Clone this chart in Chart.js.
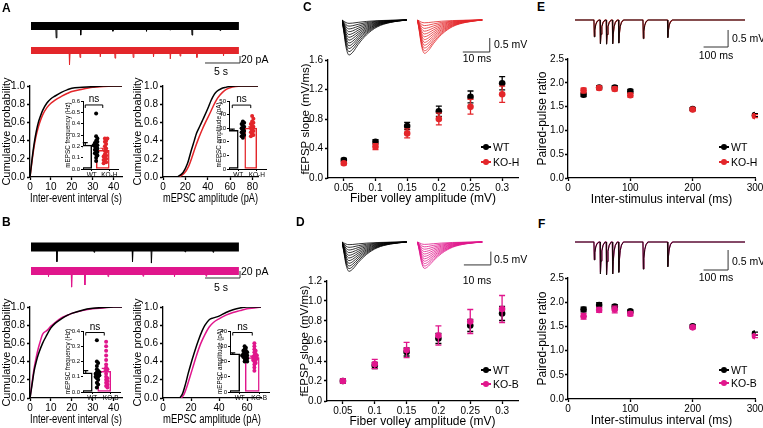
<!DOCTYPE html>
<html><head><meta charset="utf-8">
<script src="https://cdn.jsdelivr.net/npm/chart.js@4.4.1/dist/chart.umd.min.js"></script>
<style>
html,body{margin:0;padding:0;width:763px;height:428px;overflow:hidden;background:#fff;}
#root{position:relative;width:763px;height:428px;overflow:hidden;}
.t{position:absolute;font-family:'Liberation Sans',Arial,Helvetica,sans-serif;color:#000;white-space:nowrap;line-height:1;}
.pl{font-weight:bold;font-size:12px;}
.sb{font-size:10.5px;}
.lg{font-size:10.5px;}
.ns{font-size:10px;}
</style></head><body><div id="root"></div>
<script>
// ================= DATA =================
// Panel A – cumulative distributions
const intA_WT_x = [0,1,2,3,4,5,6,8,10,12,15,18,20,25,30,35,44];
const intA_WT_y = [0,0.2,0.37,0.5,0.6,0.67,0.73,0.81,0.86,0.89,0.93,0.96,0.975,0.985,0.993,1,1];
const intA_KO_x = [0,1,2,3,4,5,6,8,10,12,15,18,20,25,30,35,40,44];
const intA_KO_y = [0,0.18,0.34,0.46,0.55,0.62,0.68,0.76,0.81,0.845,0.885,0.92,0.94,0.965,0.985,0.995,1,1];
const ampA_WT_x = [13,18,22,25,28,30,33,36,40,43,46,48,52,56,60,65,85];
const ampA_WT_y = [0,0.05,0.15,0.28,0.4,0.48,0.56,0.64,0.75,0.84,0.91,0.94,0.97,0.985,0.995,1,1];
const ampA_KO_x = [14,19,23,26,29,32,35,38,42,45,48,51,55,60,65,70,85];
const ampA_KO_y = [0,0.04,0.12,0.22,0.33,0.43,0.52,0.6,0.7,0.78,0.85,0.9,0.95,0.98,0.995,1,1];
// Panel B – cumulative distributions
const intB_WT_x = [0,1,2,3,4,6,8,10,12,15,18,20,25,30,35,40,44];
const intB_WT_y = [0,0.15,0.3,0.4,0.48,0.6,0.69,0.77,0.82,0.87,0.91,0.93,0.965,0.985,0.995,1,1];
const intB_KO_x = [0,1,2,3,4,5,6,8,10,12,15,18,20,25,30,35,40,44];
const intB_KO_y = [0,0.17,0.33,0.45,0.55,0.63,0.7,0.74,0.79,0.83,0.88,0.91,0.93,0.96,0.98,0.99,1,1];
const ampB_WT_x = [12,14,16,18,20,22,25,28,30,33,36,40,45,50,55,60,70];
const ampB_WT_y = [0,0.05,0.15,0.27,0.38,0.48,0.62,0.74,0.8,0.86,0.88,0.9,0.94,0.97,0.99,1,1];
const ampB_KO_x = [13,15,17,19,21,24,27,30,33,36,40,45,50,55,60,65,70];
const ampB_KO_y = [0,0.04,0.12,0.22,0.32,0.47,0.6,0.7,0.78,0.83,0.87,0.91,0.94,0.96,0.98,0.99,1];
// Insets – individual cells, means, SEM
const groupsH = ['WT','KO-H'];
const groupsB = ['WT','KO-B'];
const freqA_WT = [0.49,0.29,0.27,0.25,0.24,0.23,0.22,0.21,0.21,0.20,0.19,0.18,0.17,0.16,0.15,0.14,0.13,0.12,0.10,0.07];
const freqA_KO = [0.27,0.27,0.25,0.24,0.22,0.20,0.18,0.16,0.15,0.13,0.12,0.11,0.10,0.09,0.08,0.07,0.06,0.05];
const freqA_mean = [0.21,0.165], freqA_sem = [0.022,0.018];
const ampInA_WT = [35,34,33,32,31,30,30,29,29,28,28,28,27,27,27,26,26,25,24,23];
const ampInA_KO = [39,37,35,34,33,32,31,30,30,29,29,28,28,27,26,25,25,24];
const ampInA_mean = [28.5,30], ampInA_sem = [0.8,1.0];
const freqB_WT = [0.34,0.20,0.19,0.17,0.15,0.14,0.13,0.13,0.12,0.12,0.11,0.11,0.10,0.10,0.09,0.08,0.06,0.05,0.03];
const freqB_KO = [0.33,0.30,0.27,0.24,0.21,0.18,0.16,0.15,0.14,0.12,0.10,0.09,0.08,0.07,0.06,0.05,0.04,0.03];
const freqB_mean = [0.125,0.135], freqB_sem = [0.015,0.02];
const ampInB_WT = [30,29,28,27,27,26,26,25,25,24,24,24,23,23,22,22,21,20,20];
const ampInB_KO = [32,30,28,27,26,25,24,24,23,23,22,22,21,21,20,19,18,16,14];
const ampInB_mean = [25,22.5], ampInB_sem = [0.7,1.0];
// Panels C/D – input/output
const fvLabels = ['0.05','0.1','0.15','0.2','0.25','0.3'];
const slopeC_WT = [0.245,0.49,0.705,0.905,1.10,1.285], slopeC_WT_err = [0.02,0.03,0.05,0.07,0.08,0.09];
const slopeC_KO = [0.20,0.425,0.605,0.80,0.965,1.135], slopeC_KO_err = [0.02,0.04,0.06,0.08,0.10,0.11];
const slopeD_WT = [0.20,0.355,0.49,0.625,0.755,0.875], slopeD_WT_err = [0.02,0.03,0.04,0.05,0.06,0.07];
const slopeD_KO = [0.20,0.37,0.51,0.655,0.795,0.92], slopeD_KO_err = [0.02,0.047,0.077,0.097,0.12,0.135];
// Panels E/F – paired-pulse ratio
const isi = [25,50,75,100,200,300];
const pprE_WT = [1.75,1.90,1.90,1.82,1.45,1.32], pprE_WT_err = [0.04,0.04,0.04,0.04,0.03,0.03];
const pprE_KO = [1.84,1.89,1.87,1.74,1.44,1.30], pprE_KO_err = [0.05,0.04,0.04,0.04,0.03,0.03];
const pprF_WT = [1.85,1.94,1.91,1.81,1.50,1.35], pprF_WT_err = [0.05,0.05,0.04,0.03,0.03,0.03];
const pprF_KO = [1.71,1.84,1.85,1.76,1.48,1.30], pprF_KO_err = [0.06,0.05,0.07,0.04,0.03,0.03];
// Example recordings
const spikesA_WT = [[3.6,34],[7.1,26],[11.7,15],[16.5,15],[19.9,12],[23.0,26],[27.0,13]];
const spikesA_KO = [[5.5,41],[7.0,20],[9.9,18],[12.0,22],[14.6,20],[17.5,18],[19.9,24],[21.3,16],[23.7,20],[27.5,15]];
const spikesB_WT = [[3.7,42],[9.0,15],[14.5,42],[17.2,46],[22.0,14],[26.0,15]];
const spikesB_KO = [[2.5,16],[5.8,46],[7.7,40],[11.0,16],[16.0,15],[20.5,16],[25.0,15]];
const fanT = [0,0.6,1.5,2.6,4,6,9,13,18,24];
const fanShape = [0,0.3,0.78,1,0.92,0.7,0.43,0.2,0.07,0];
const fanC_WT = [0.12,0.22,0.32,0.42,0.52,0.62,0.72,0.82,0.92,1.02,1.13,1.25];
const fanC_KO = [0.10,0.20,0.30,0.40,0.50,0.60,0.70,0.80,0.90,1.00,1.10,1.19];
const fanD_WT = [0.10,0.20,0.30,0.40,0.50,0.60,0.70,0.80,0.90,1.00,1.10];
const fanD_KO = [0.09,0.18,0.27,0.36,0.45,0.54,0.63,0.72,0.81,0.90,0.99];
const ppT = [-0.3,1.2,3.5,7,12,20];
const ppShape = [0,1,0.6,0.28,0.1,0];
const ppE_WT = [[0,0.50],[25,0.70],[50,0.71],[75,0.70],[100,0.68],[200,0.55],[300,0.52]];
const ppE_KO = [[0,0.47],[25,0.68],[50,0.70],[75,0.69],[100,0.66],[200,0.53],[300,0.50]];
const ppF_WT = [[0,0.45],[25,0.80],[50,0.82],[75,0.80],[100,0.76],[200,0.68],[300,0.62]];
const ppF_KO = [[0,0.43],[25,0.76],[50,0.80],[75,0.78],[100,0.74],[200,0.66],[300,0.60]];

// ================= STYLE / HELPERS =================
const FONT = "'Liberation Sans', Arial, Helvetica, sans-serif";
const BLACK = '#000000', RED = '#e3262a', MAG = '#e0168c';
const root = document.getElementById('root');
Chart.defaults.font.family = FONT;
const xy = (xs, ys) => xs.map((x,i)=>({x, y: ys[i]}));

const errPlugin = {
  id:'errbars',
  beforeDatasetDraw(chart, args){
    const ds = chart.data.datasets[args.index];
    if(!ds.err) return;
    const ys = chart.scales[ds.yAxisID || 'y'];
    const ctx = chart.ctx; ctx.save();
    ctx.lineWidth = ds.errWidth || 1.2;
    args.meta.data.forEach((el,i)=>{
      const d = ds.data[i]; const v = (typeof d === 'object') ? d.y : d; const e = ds.err[i];
      const col = Array.isArray(ds.errColor) ? ds.errColor[i] : (ds.errColor || ds.borderColor);
      ctx.strokeStyle = col;
      const x = el.x, y1 = ys.getPixelForValue(v+e), y2 = ys.getPixelForValue(v-e), c = ds.cap || 3;
      ctx.beginPath();
      ctx.moveTo(x,y1); ctx.lineTo(x,y2);
      ctx.moveTo(x-c,y1); ctx.lineTo(x+c,y1);
      ctx.moveTo(x-c,y2); ctx.lineTo(x+c,y2);
      ctx.stroke();
    });
    ctx.restore();
  }
};
Chart.register(errPlugin);

const bracketPlugin = {
  id:'bracket',
  afterDatasetsDraw(chart, args, opts){
    const m = chart.getDatasetMeta(0); const ys = chart.scales.y;
    const x1 = m.data[0].x, x2 = m.data[1].x, y = ys.getPixelForValue(opts.y);
    const ctx = chart.ctx; ctx.save(); ctx.strokeStyle = '#000'; ctx.lineWidth = 1;
    ctx.beginPath(); ctx.moveTo(x1,y+3); ctx.lineTo(x1,y); ctx.lineTo(x2,y); ctx.lineTo(x2,y+3); ctx.stroke();
    ctx.restore();
  }
};

function label(text, x, y, cls, anchor){
  const d = document.createElement('div'); d.className = 't ' + cls; d.textContent = text;
  d.style.left = x + 'px'; d.style.top = y + 'px';
  d.style.transform = anchor === 'center' ? 'translate(-50%,-50%)' : 'translateY(-50%)';
  root.appendChild(d); return d;
}
function legendItem(x, y, color, text){
  const ln = document.createElement('div');
  ln.style.cssText = `position:absolute;left:${x}px;top:${y-0.75}px;width:10px;height:1.5px;background:${color}`;
  const dt = document.createElement('div');
  dt.style.cssText = `position:absolute;left:${x+2}px;top:${y-3}px;width:6px;height:6px;border-radius:50%;background:${color}`;
  root.append(ln, dt); label(text, x+12, y, 'lg');
}
function ax(o){
  const horiz = o.pos === 'bottom';
  const a = {
    type: o.type || 'linear', position: o.pos, offset: !!o.offset,
    border: {display:true, color:'#000', width:o.bw || 1.3},
    grid: {display:true, drawOnChartArea:false, drawTicks:(o.tl||0) > 0, tickLength:o.tl || 0, tickWidth:o.bw || 1.3, tickColor:'#000', color:'#000', offset:false},
    ticks: {color:'#000', font:{family:FONT, size:o.fs || 10}, padding:(o.pad ?? 1), autoSkip:false, maxRotation:0, minRotation:0},
    title: o.title ? {display:true, text:o.title, color:'#000', font:{family:FONT, size:o.ts || 12}, padding:{top:o.tp || 0, bottom:o.tp || 0}} : {display:false},
    afterFit(s){ if(horiz) s.height = o.size; else s.width = o.size; }
  };
  if (o.min !== undefined) a.min = o.min;
  if (o.max !== undefined) a.max = o.max;
  if (o.step){
    a.ticks.stepSize = o.step;
    a.afterBuildTicks = s => {
      const t = [];
      for (let k = 0; o.min + k*o.step <= o.max + 1e-9; k++) t.push({value: Math.round((o.min + k*o.step)*1e6)/1e6});
      s.ticks = t;
    };
  }
  if (o.dec !== undefined) a.ticks.callback = v => Number(v).toFixed(o.dec);
  return a;
}
function hidden(min, max){ return {type:'linear', display:false, min, max}; }
function place(area, m){
  const left = area.L - m.yw, top = area.T - m.pt;
  return {left, top, w: Math.round(area.R + m.pr - left), h: Math.round(area.B + m.xh - top),
          padding:{left:0, top:m.pt, right:m.pr, bottom:0}};
}
function newChart(p, config){
  const c = document.createElement('canvas');
  c.width = p.w; c.height = p.h;
  c.style.cssText = `position:absolute;left:${p.left}px;top:${p.top}px;width:${p.w}px;height:${p.h}px;`;
  root.appendChild(c);
  const opts = config.options || {};
  opts.responsive = false; opts.animation = false; opts.devicePixelRatio = 1; opts.events = [];
  opts.layout = {padding: p.padding};
  opts.plugins = Object.assign({legend:{display:false}, tooltip:{enabled:false}}, opts.plugins || {});
  config.options = opts;
  return new Chart(c, config);
}
const lineDs = (data, color, w, extra) => Object.assign({data, borderColor:color, backgroundColor:color, borderWidth:w, pointRadius:0, showLine:true, fill:false}, extra || {});

// ---------- cumulative plots ----------
function cumChart(area, yw, xMax, xStep, xTitle, dsets){
  const p = place(area, {yw, xh:29, pt:10, pr:8});
  return newChart(p, {type:'scatter', data:{datasets: dsets.map(([d,c,o]) => lineDs(d, c, 1.5, {cubicInterpolationMode:'monotone', order:o}))},
    options:{scales:{
      x: ax({pos:'bottom', min:0, max:xMax, step:xStep, tl:3, pad:1, size:29, title:xTitle}),
      y: ax({pos:'left', min:0, max:1, step:0.2, dec:1, tl:3, pad:2, size:yw, title:'Cumulative probability', ts:11, tp:0})
    }}});
}
cumChart({L:30,T:86,R:122,B:177}, 30, 44, 10, 'Inter-event interval (s)', [[xy(intA_KO_x,intA_KO_y),RED,1],[xy(intA_WT_x,intA_WT_y),BLACK,0]]);
cumChart({L:163,T:86,R:258,B:177}, 32, 85, 20, 'mEPSC amplitude (pA)', [[xy(ampA_KO_x,ampA_KO_y),RED,1],[xy(ampA_WT_x,ampA_WT_y),BLACK,0]]);
cumChart({L:30,T:307,R:122,B:398}, 30, 44, 10, 'Inter-event interval (s)', [[xy(intB_KO_x,intB_KO_y),MAG,1],[xy(intB_WT_x,intB_WT_y),BLACK,0]]);
cumChart({L:163,T:307,R:261,B:398}, 32, 70, 20, 'mEPSC amplitude (pA)', [[xy(ampB_KO_x,ampB_KO_y),MAG,1],[xy(ampB_WT_x,ampB_WT_y),BLACK,0]]);

// ---------- insets (bar + individual cells) ----------
function swarm(values, center, pyPerUnit, pxPerUnit, r, maxOff){
  const idx = values.map((v,i)=>i).sort((a,b)=>values[b]-values[a]);
  const placed = [], out = new Array(values.length), step = r*1.3;
  idx.forEach(i => {
    const py = values[i]*pyPerUnit; let px = 0, best = null;
    for (let k=0; k<30; k++){
      const cand = k===0 ? 0 : ((k%2) ? 1 : -1) * Math.ceil(k/2) * step;
      if (Math.abs(cand) > maxOff) break;
      if (placed.every(q => (q.x-cand)**2 + (q.y-py)**2 >= (1.4*r)**2)) { best = cand; break; }
    }
    px = best === null ? 0 : best;
    placed.push({x:px, y:py});
    out[i] = {x: center + px/pxPerUnit, y: values[i]};
  });
  return out;
}
function inset(area, yw, labels, yMax, yStep, dec, yTitle, wt, ko, mean, sem, koColor, barW, brY){
  const p = place(area, {yw, xh:10, pt:14, pr:3});
  const pyU = (area.B-area.T)/yMax, pxU = (area.R-area.L)/2, mo = barW/2 - 1;
  const ch = newChart(p, {type:'bar', data:{labels, datasets:[
      {type:'bar', data:mean, backgroundColor:'#ffffff', borderColor:[BLACK,koColor], borderWidth:1.5, borderSkipped:false, barThickness:barW, err:sem, errColor:[BLACK,koColor], errWidth:1.2, cap:2.5, order:3},
      {type:'scatter', xAxisID:'x2', data:swarm(wt,0,pyU,pxU,2,mo), pointRadius:2, backgroundColor:BLACK, borderWidth:0, order:1},
      {type:'scatter', xAxisID:'x2', data:swarm(ko,1,pyU,pxU,2,mo), pointRadius:2, backgroundColor:koColor, borderWidth:0, order:2}
    ]},
    options:{plugins:{bracket:{y:brY}}, scales:{
      x: ax({type:'category', pos:'bottom', offset:true, tl:2, pad:0, fs:6.5, size:10, bw:1}),
      x2: hidden(-0.5, 1.5),
      y: ax({pos:'left', min:0, max:yMax, step:yStep, dec, tl:2, pad:1, fs:6, size:yw, title:yTitle, ts:6.3, bw:1})
    }},
    plugins:[bracketPlugin]});
  const m = ch.getDatasetMeta(0);
  label('ns', p.left + (m.data[0].x + m.data[1].x)/2, p.top + ch.scales.y.getPixelForValue(brY) - 6, 'ns', 'center');
  return ch;
}
inset({L:83,T:101,R:119,B:169}, 19, groupsH, 0.6, 0.1, 1, 'mEPSC frequency (Hz)', freqA_WT, freqA_KO, freqA_mean, freqA_sem, RED, 13, 0.565);
inset({L:229,T:101,R:267,B:169}, 14, groupsH, 50, 10, 0, 'mEPSC amplitude (pA)', ampInA_WT, ampInA_KO, ampInA_mean, ampInA_sem, RED, 12, 47);
inset({L:83,T:331,R:121,B:392}, 19, groupsB, 0.4, 0.1, 1, 'mEPSC frequency (Hz)', freqB_WT, freqB_KO, freqB_mean, freqB_sem, MAG, 13, 0.39);
inset({L:230,T:331,R:270,B:392}, 14, groupsB, 40, 10, 0, 'mEPSC amplitude (pA)', ampInB_WT, ampInB_KO, ampInB_mean, ampInB_sem, MAG, 14, 39);

// ---------- mEPSC example traces ----------
function spikeData(base, spikes){
  const pts = [];
  spikes.forEach(([t,d]) => { pts.push({x:t-0.06, y:base}, {x:t, y:base-d}, {x:t+0.1, y:base}); });
  return pts;
}
function traceChart(area, yMin, yMax, koBase, wt, ko, koColor, wW, kW, bar){
  const p = place(area, {yw:0, xh:0, pt:0, pr:0});
  newChart(p, {type:'scatter', data:{datasets:[
      lineDs([{x:0,y:0},{x:29.7,y:0}], BLACK, wW, {borderCapStyle:'butt'}),
      lineDs(spikeData(0, wt), BLACK, 1),
      lineDs([{x:0,y:koBase},{x:29.7,y:koBase}], koColor, kW, {borderCapStyle:'butt'}),
      lineDs(spikeData(koBase, ko), koColor, 1),
      lineDs(bar, '#333333', 1)
    ]}, options:{scales:{x:hidden(0,31), y:hidden(yMin,yMax)}}});
}
traceChart({L:31,T:15,R:248,B:70}, -125.7, 31.4, -70, spikesA_WT, spikesA_KO, RED, 8, 7,
  [{x:24.86,y:-105.7},{x:29.86,y:-105.7},{x:29.86,y:-85.7}]);
traceChart({L:31,T:236,R:248,B:292}, -128.6, 31.4, -68.6, spikesB_WT, spikesB_KO, MAG, 9, 8,
  [{x:24.86,y:-88.6},{x:29.86,y:-88.6},{x:29.86,y:-68.6}]);

// ---------- fEPSP example traces ----------
function fanSets(peaks, t0, color){
  return peaks.map(pk => lineDs(fanT.map((t,i)=>({x:t0+t, y:-pk*fanShape[i]})), color, 0.8, {cubicInterpolationMode:'monotone'}));
}
function fanChart(area, yMin, yMax, wt, ko, koColor, bar){
  const p = place(area, {yw:0, xh:0, pt:0, pr:0});
  newChart(p, {type:'scatter', data:{datasets:[...fanSets(wt,0,BLACK), ...fanSets(ko,28,koColor), lineDs(bar,'#333333',1)]},
    options:{scales:{x:hidden(0,56), y:hidden(yMin,yMax)}}});
}
fanChart({L:342,T:14,R:493,B:62}, -1.5, 0.214, fanC_WT, fanC_KO, RED, [{x:44.8,y:-1.143},{x:54.8,y:-1.143},{x:54.8,y:-0.643}]);
fanChart({L:342,T:236,R:493,B:282}, -1.5, 0.225, fanD_WT, fanD_KO, MAG, [{x:45.2,y:-0.86},{x:55.2,y:-0.86},{x:55.2,y:-0.36}]);

// ---------- paired-pulse example traces ----------
function ppData(pulses){
  const pts = [{x:-78, y:0}];
  pulses.forEach(([t,d]) => ppT.forEach((s,i) => pts.push({x:t+s, y:-d*ppShape[i]})));
  pts.push({x:616, y:0});
  return pts;
}
function ppChart(area, yMin, yMax, wt, ko, koColor, bar){
  const p = place(area, {yw:0, xh:0, pt:0, pr:0});
  newChart(p, {type:'scatter', data:{datasets:[
      lineDs(ppData(wt), '#1a0a0a', 1, {order:0}),
      lineDs(ppData(ko), koColor, 1.2, {order:1}),
      lineDs(bar, '#333333', 1, {order:2})
    ]}, options:{scales:{x:hidden(-77.6,616), y:hidden(yMin,yMax)}}});
}
ppChart({L:575,T:12,R:745,B:52}, -0.941, 0.235, ppE_WT, ppE_KO, RED, [{x:447,y:-0.794},{x:547,y:-0.794},{x:547,y:-0.294}]);
ppChart({L:575,T:234,R:745,B:280}, -0.95, 0.2, ppF_WT, ppF_KO, MAG, [{x:447,y:-0.7},{x:547,y:-0.7},{x:547,y:-0.2}]);

// ---------- input/output (C, D) ----------
function ioChart(area, yMax, yStep, wt, wtE, ko, koE, koColor){
  const p = place(area, {yw:29, xh:28, pt:8, pr:4});
  newChart(p, {type:'line', data:{labels:fvLabels, datasets:[
      {data:wt, borderColor:BLACK, backgroundColor:BLACK, showLine:false, pointRadius:3.3, pointBorderWidth:0, err:wtE, errWidth:1.3, cap:3, order:1},
      {data:ko, borderColor:koColor, backgroundColor:koColor, showLine:false, pointRadius:3.3, pointBorderWidth:0, err:koE, errWidth:1.3, cap:3, order:0}
    ]}, options:{scales:{
      x: ax({type:'category', pos:'bottom', offset:true, tl:3, pad:1, size:28, title:'Fiber volley amplitude (mV)'}),
      y: ax({pos:'left', min:0, max:yMax, step:yStep, dec:1, tl:3, pad:2, size:29, title:'fEPSP slope (mV/ms)', ts:11.5})
    }}});
}
ioChart({L:328,T:60,R:518,B:178}, 1.6, 0.4, slopeC_WT, slopeC_WT_err, slopeC_KO, slopeC_KO_err, RED);
ioChart({L:327,T:281,R:518,B:401}, 1.2, 0.2, slopeD_WT, slopeD_WT_err, slopeD_KO, slopeD_KO_err, MAG);

// ---------- paired-pulse ratio (E, F) ----------
function pprChart(area, wt, wtE, ko, koE, koColor){
  const p = place(area, {yw:33, xh:29, pt:8, pr:13});
  newChart(p, {type:'scatter', data:{datasets:[
      {data:xy(isi,wt), borderColor:BLACK, backgroundColor:BLACK, pointRadius:3.3, pointBorderWidth:0, err:wtE, errWidth:1.3, cap:3, order:1},
      {data:xy(isi,ko), borderColor:koColor, backgroundColor:koColor, pointRadius:3.3, pointBorderWidth:0, err:koE, errWidth:1.3, cap:3, order:0}
    ]}, options:{scales:{
      x: ax({pos:'bottom', min:0, max:300, step:100, tl:3, pad:1, size:29, title:'Inter-stimulus interval (ms)'}),
      y: ax({pos:'left', min:0, max:2.5, step:0.5, dec:1, tl:3, pad:1, size:33, title:'Paired-pulse ratio', ts:12})
    }}});
}
pprChart({L:568,T:59,R:755,B:178}, pprE_WT, pprE_WT_err, pprE_KO, pprE_KO_err, RED);
pprChart({L:568,T:278,R:755,B:399}, pprF_WT, pprF_WT_err, pprF_KO, pprF_KO_err, MAG);

// ---------- text: panel letters, scale bars, legends ----------
label('A', 2, 8, 'pl'); label('B', 2, 222, 'pl'); label('C', 303, 7, 'pl');
label('D', 296, 222, 'pl'); label('E', 537, 7, 'pl'); label('F', 538, 224, 'pl');
label('20 pA', 241, 59, 'sb'); label('5 s', 221, 71, 'sb', 'center');
label('20 pA', 241, 271, 'sb'); label('5 s', 221, 287, 'sb', 'center');
label('0.5 mV', 494, 44, 'sb'); label('10 ms', 477, 58, 'sb', 'center');
label('0.5 mV', 494, 259, 'sb'); label('10 ms', 477, 280, 'sb', 'center');
label('0.5 mV', 732, 38, 'sb'); label('100 ms', 716, 55, 'sb', 'center');
label('0.5 mV', 732, 261, 'sb'); label('100 ms', 716, 277, 'sb', 'center');
legendItem(481, 147, BLACK, 'WT'); legendItem(481, 162, RED, 'KO-H');
legendItem(481, 370, BLACK, 'WT'); legendItem(481, 384, MAG, 'KO-B');
legendItem(719, 147, BLACK, 'WT'); legendItem(719, 162, RED, 'KO-H');
legendItem(719, 370, BLACK, 'WT'); legendItem(719, 383, MAG, 'KO-B');
</script></body></html>
